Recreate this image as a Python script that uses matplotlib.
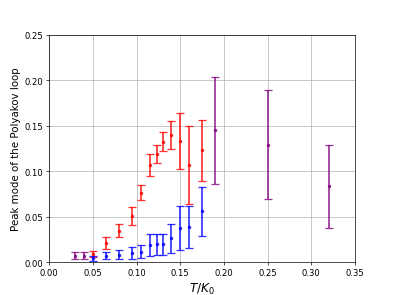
import numpy as np
import matplotlib
matplotlib.use('Agg')
import matplotlib.pyplot as plt

# red series
T_red = [0.05, 0.065, 0.08, 0.095, 0.105, 0.115, 0.1235, 0.13, 0.14, 0.15, 0.16, 0.175]
p_red = [0.009, 0.0215, 0.035, 0.051, 0.0768, 0.107, 0.119, 0.1328, 0.1397, 0.1335, 0.107, 0.123]
e_red = [0.0033, 0.007, 0.0073, 0.0095, 0.0084, 0.0122, 0.0099, 0.0107, 0.0153, 0.0306, 0.0425, 0.0333]

# blue series
T_blue = [0.05, 0.065, 0.08, 0.095, 0.105, 0.115, 0.1235, 0.13, 0.14, 0.15, 0.16, 0.175]
p_blue = [0.0044, 0.0073, 0.0087, 0.0106, 0.012, 0.0193, 0.02, 0.02, 0.0266, 0.0382, 0.0393, 0.056]
e_blue = [0.003, 0.004, 0.0047, 0.0063, 0.0067, 0.012, 0.0117, 0.0114, 0.0158, 0.0242, 0.0231, 0.027]

# purple series
T_pur = [0.03, 0.04, 0.19, 0.25, 0.32]
p_pur = [0.0075, 0.0075, 0.1452, 0.1291, 0.0837]
e_pur = [0.0037, 0.0037, 0.0588, 0.0598, 0.0455]

plt.figure(figsize=(6.4, 4.8), dpi=61.6)
for T, p, e, c in [(T_red, p_red, e_red, 'red'),
                   (T_blue, p_blue, e_blue, 'blue'),
                   (T_pur, p_pur, e_pur, 'purple')]:
    plt.errorbar(T, p, yerr=e, fmt='o', color=c, markersize=3,
                 capsize=5, elinewidth=2, capthick=1.5, alpha=0.8)
plt.xlim(0, 0.35)
plt.ylim(0, 0.25)
plt.xlabel('$T/K_0$', fontsize=14)
plt.ylabel('Peak mode of the Polyakov loop', fontsize=12)
plt.grid(True)
plt.savefig('out.png', dpi=61.6)
